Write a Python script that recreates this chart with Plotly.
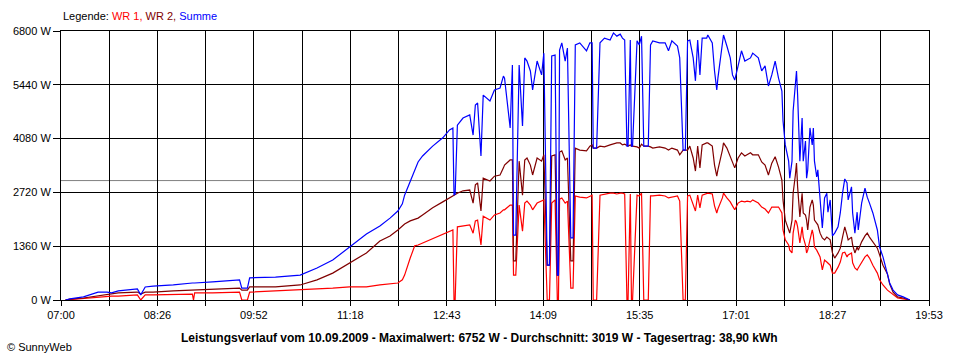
import plotly.graph_objects as go
import numpy as np

# ---- data ----
times = [
    "07:04", "07:08", "07:20", "07:33", "07:41", "07:45", "07:51", "08:08", "08:11", "08:15",
    "08:22", "08:40", "08:57", "08:58", "08:59", "09:15", "09:39", "09:41", "09:46", "09:48",
    "10:11", "10:33", "10:48", "11:02", "11:17", "11:32", "11:44", "11:53", "12:00", "12:04",
    "12:06", "12:11", "12:15", "12:18", "12:22", "12:31", "12:40", "12:46", "12:49", "12:50",
    "12:51", "12:53", "12:58", "13:04", "13:07", "13:09", "13:11", "13:14", "13:16", "13:22",
    "13:26", "13:31", "13:34", "13:35", "13:40", "13:42", "13:43", "13:45", "13:48", "13:51",
    "13:53", "13:55", "13:58", "14:00", "14:04", "14:08", "14:10", "14:13", "14:15", "14:17",
    "14:20", "14:22", "14:23", "14:24", "14:26", "14:29", "14:31", "14:34", "14:36", "14:38",
    "14:42", "14:48", "14:51", "14:53", "14:54", "14:57", "15:00", "15:04", "15:09", "15:12",
    "15:15", "15:18", "15:20", "15:22", "15:24", "15:25", "15:27", "15:28", "15:29", "15:33",
    "15:35", "15:37", "15:39", "15:41", "15:43", "15:45", "15:47", "15:53", "15:58", "16:01",
    "16:04", "16:09", "16:11", "16:14", "16:16", "16:18", "16:20", "16:23", "16:25", "16:27",
    "16:29", "16:31", "16:35", "16:36", "16:40", "16:42", "16:44", "16:45", "16:49", "16:50",
    "16:53", "16:56", "16:58", "17:00", "17:03", "17:06", "17:09", "17:11", "17:14", "17:16",
    "17:21", "17:24", "17:27", "17:30", "17:33", "17:36", "17:39", "17:42", "17:43", "17:45",
    "17:47", "17:48", "17:49", "17:51", "17:52", "17:54", "17:55", "17:56", "17:58", "18:00",
    "18:01", "18:03", "18:04", "18:05", "18:07", "18:09", "18:10", "18:11", "18:13", "18:14",
    "18:16", "18:18", "18:20", "18:22", "18:23", "18:25", "18:27", "18:29", "18:32", "18:34",
    "18:36", "18:38", "18:40", "18:41", "18:44", "18:45", "18:47", "18:49", "18:50", "18:53",
    "18:56", "18:58", "19:00", "19:03", "19:07", "19:09", "19:12", "19:16", "19:18", "19:21",
    "19:25", "19:30", "19:36",
]

summe = [
    0, 30, 80, 200, 200, 180, 230, 280, 130, 330,
    350, 380, 430, 430, 430, 460, 510, 300, 300, 560,
    580, 630, 810, 1010, 1340, 1670, 1870, 2070, 2250, 2430,
    2650, 2980, 3290, 3490, 3640, 3890, 4100, 4300, 4350, 2650,
    2680, 4420, 4600, 4680, 4170, 4930, 4980, 3640, 5180, 5030,
    5310, 5360, 5660, 5610, 4350, 5940, 1640, 1640, 5940, 4400,
    6120, 6040, 5790, 5310, 6040, 5690, 6240, 880, 880, 6170,
    6190, 630, 630, 6320, 6500, 6040, 6370, 1570, 1570, 6450,
    6500, 6300, 6500, 6500, 3840, 3840, 6500, 6620, 6570, 6752,
    6670, 6720, 6620, 6570, 3890, 3890, 6570, 3890, 3890, 6550,
    6450, 6670, 3890, 3890, 3890, 6450, 6550, 6500, 6500, 6300,
    6550, 6420, 6120, 3790, 3790, 6550, 6570, 6120, 5540, 6570,
    5690, 6620, 6620, 6700, 6500, 5790, 5310, 5610, 6420, 6700,
    6420, 6120, 5690, 5560, 5920, 6300, 6040, 6070, 6120, 6240,
    6120, 5790, 5920, 5410, 5690, 6040, 5610, 5280, 4530, 3920,
    3670, 3510, 3080, 3510, 4780, 5540, 5790, 5180, 3510, 4600,
    3510, 4020, 3080, 3290, 4350, 3920, 4350, 3510, 3110, 3290,
    2500, 1820, 2580, 2700, 2220, 2530, 1620, 1690, 1850, 2200,
    2700, 3060, 2960, 2530, 2860, 2200, 1690, 2220, 1770, 2450,
    2830, 2600, 2450, 2200, 1770, 1340, 1090, 680, 430, 250,
    130, 80, 0,
]

wr2 = [
    0, 20, 50, 100, 150, 150, 180, 200, 150, 200,
    200, 230, 250, 250, 250, 280, 300, 250, 250, 330,
    330, 380, 510, 680, 940, 1190, 1490, 1620, 1770, 1870,
    1920, 2000, 2050, 2070, 2150, 2330, 2480, 2580, 2650, 2650,
    2680, 2700, 2760, 2780, 2450, 2910, 2960, 2250, 3080, 3010,
    3130, 3160, 3340, 3410, 3540, 3540, 990, 990, 3510, 2650,
    3540, 3590, 3410, 3160, 3590, 3510, 3670, 880, 880, 3640,
    3670, 630, 630, 3740, 3770, 3540, 3590, 990, 990, 3840,
    3790, 3770, 3890, 3920, 3840, 3840, 3890, 3870, 3920, 3940,
    3970, 3970, 3920, 3940, 3890, 3890, 3920, 3890, 3890, 3870,
    3840, 3940, 3890, 3890, 3890, 3870, 3840, 3870, 3840, 3790,
    3840, 3790, 3670, 3790, 3790, 3790, 3890, 3590, 3260, 3890,
    3340, 3920, 3970, 3970, 3890, 3410, 3130, 3290, 3790, 3970,
    3840, 3640, 3460, 3340, 3590, 3720, 3640, 3670, 3720, 3670,
    3670, 3490, 3410, 3160, 3460, 3620, 3360, 3030, 2530, 2020,
    1850, 1770, 1690, 2020, 2700, 3160, 3460, 2860, 2100, 2700,
    2200, 2150, 2020, 1770, 2350, 2530, 2400, 2020, 1950, 1900,
    1690, 1570, 1520, 1590, 1570, 1520, 1190, 1060, 1190, 1310,
    1590, 1850, 1640, 1520, 1590, 1390, 1190, 1340, 1260, 1470,
    1620, 1690, 1590, 1470, 1310, 1140, 880, 660, 400, 200,
    80, 50, 0,
]

wr1 = [
    0, 10, 50, 80, 100, 100, 100, 130, 0, 130,
    130, 150, 150, 0, 180, 180, 200, 0, 0, 200,
    230, 250, 280, 300, 330, 330, 380, 400, 430, 510,
    630, 1060, 1370, 1390, 1440, 1540, 1670, 1740, 1770, 0,
    0, 1850, 1870, 1900, 1690, 2000, 2020, 1390, 2120, 2020,
    2150, 2200, 2280, 2280, 2400, 2400, 630, 630, 2400, 1740,
    2450, 2500, 2400, 2280, 2450, 2500, 2530, 0, 0, 2450,
    2530, 0, 0, 2550, 2580, 2450, 2500, 300, 300, 2630,
    2600, 2580, 2630, 2650, 0, 0, 2650, 2680, 2700, 2700,
    2680, 2700, 2700, 2680, 0, 0, 2680, 0, 0, 2650,
    2630, 2700, 0, 0, 0, 2630, 2630, 2650, 2630, 2580,
    2600, 2630, 2500, 0, 0, 2630, 2650, 2400, 2250, 2650,
    2330, 2650, 2680, 2700, 2680, 2380, 2200, 2300, 2580, 2700,
    2580, 2480, 2380, 2280, 2450, 2500, 2480, 2500, 2480, 2530,
    2450, 2350, 2300, 2200, 2350, 2350, 2350, 2200, 1770, 1520,
    1440, 1390, 1260, 1190, 1690, 2020, 1970, 1850, 1440, 1850,
    1590, 1390, 1190, 1260, 1520, 1770, 1640, 1340, 1260, 1210,
    1090, 760, 1010, 960, 940, 880, 680, 680, 830, 960,
    1190, 1210, 1090, 1140, 1190, 940, 810, 760, 810, 960,
    1090, 1140, 1060, 880, 680, 510, 380, 250, 200, 130,
    50, 30, 0,
]

x_tick_labels = ["07:00", "08:26", "09:52", "11:18", "12:43",
                 "14:09", "15:35", "17:01", "18:27", "19:53"]
y_tick_values = [0, 1360, 2720, 4080, 5440, 6800]
AVG_W = 3019

legend_text = ("Legende: <span style='color:#ff0000'>WR 1,</span> "
               "<span style='color:#800000'>WR 2,</span> "
               "<span style='color:#0000ff'>Summe</span>")
title_text = ("<b>Leistungsverlauf vom 10.09.2009 - Maximalwert: 6752 W - "
              "Durchschnitt: 3019 W - Tagesertrag: 38,90 kWh</b>")


def to_min(s):
    h, m = s.split(":")
    return int(h) * 60 + int(m)


x = [to_min(t) for t in times]
x_start = to_min(x_tick_labels[0])
x_end = to_min(x_tick_labels[-1])
n_ticks = 2 * (len(x_tick_labels) - 1) + 1
tickvals = list(np.linspace(x_start, x_end, n_ticks))
ticktext = []
for i in range(n_ticks):
    ticktext.append(x_tick_labels[i // 2] if i % 2 == 0 else "")

FONT = "Liberation Sans, Arial, sans-serif"

fig = go.Figure()
for name, vals, col in [("WR 1", wr1, "#ff0000"),
                        ("WR 2", wr2, "#800000"),
                        ("Summe", summe, "#0000ff")]:
    fig.add_trace(go.Scatter(x=x, y=vals, mode="lines", name=name,
                             line=dict(color=col, width=1.2),
                             hoverinfo="skip"))

fig.add_shape(type="line", xref="paper", x0=0, x1=1, yref="y",
              y0=AVG_W, y1=AVG_W, line=dict(color="#808080", width=1),
              layer="below")

fig.update_layout(
    width=960, height=360,
    margin=dict(l=61, r=31, t=31, b=60),
    paper_bgcolor="white", plot_bgcolor="white",
    showlegend=False,
    font=dict(family=FONT, size=11, color="black"),
    xaxis=dict(range=[x_start, x_end], tickmode="array", tickvals=tickvals,
               ticktext=ticktext, showgrid=True, gridcolor="black", gridwidth=1,
               showline=True, linecolor="black", linewidth=1, mirror=True,
               ticks="outside", ticklen=5, tickcolor="black", zeroline=False,
               tickfont=dict(family=FONT, size=11, color="black")),
    yaxis=dict(range=[0, 6800], tickmode="array", tickvals=y_tick_values,
               ticktext=[f"{v} W" for v in y_tick_values],
               showgrid=True, gridcolor="black", gridwidth=1,
               showline=True, linecolor="black", linewidth=1, mirror=True,
               ticks="outside", ticklen=7, tickcolor="black", zeroline=False,
               tickfont=dict(family=FONT, size=11, color="black")),
    annotations=[
        dict(text=legend_text, xref="paper", yref="paper", x=0, y=1.0558,
             xanchor="left", yanchor="middle", showarrow=False,
             font=dict(family=FONT, size=11, color="black")),
        dict(text=title_text, xref="paper", yref="paper", x=0.4816, y=-0.1413,
             xanchor="center", yanchor="middle", showarrow=False,
             font=dict(family=FONT, size=12, color="black")),
        dict(text="© SunnyWeb", xref="paper", yref="paper", x=-0.0645, y=-0.1747,
             xanchor="left", yanchor="middle", showarrow=False,
             font=dict(family=FONT, size=11, color="black")),
    ],
)

fig.write_html("out.html",
               config={"displayModeBar": False},
               post_script="document.body.style.margin='0';")
